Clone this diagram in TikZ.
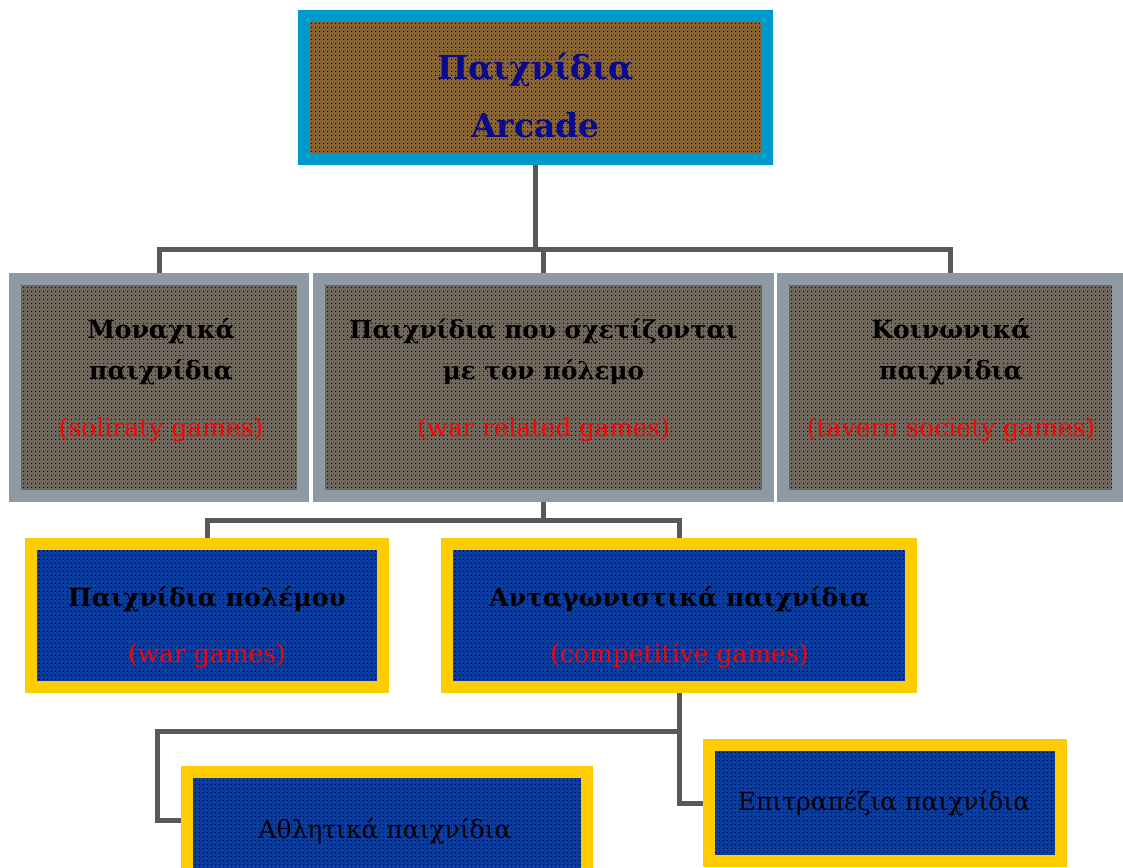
\documentclass[tikz,border=0pt]{standalone}
\usepackage{fontspec}
\setmainfont{DejaVu Serif}
\usetikzlibrary{patterns.meta,backgrounds}

\definecolor{linegray}{RGB}{88,89,91}
\definecolor{topblue}{RGB}{0,153,204}
\definecolor{slate}{RGB}{142,153,164}
\definecolor{gold}{RGB}{255,204,0}
\definecolor{bronze}{RGB}{136,100,52}
\definecolor{taupe}{RGB}{112,103,92}
\definecolor{royal}{RGB}{12,60,158}
\definecolor{navytext}{RGB}{10,10,140}
\definecolor{redtext}{RGB}{255,0,0}

% English subtitles in red, regular weight
\newcommand\engnote{\color{redtext}\mdseries}

\tikzset{
  panel/.style={rectangle, inner sep=0pt, line width=12pt,
    pattern={Dots[distance=4pt,radius=0.7pt]}, pattern color=black},
  toppanel/.style={panel, draw=topblue, preaction={fill=bronze}},
  midpanel/.style={panel, draw=slate, preaction={fill=taupe}},
  lowpanel/.style={panel, draw=gold, preaction={fill=royal}},
  link/.style={draw=linegray, line width=5pt},
  % texts are placed by the baseline of their last line
  boxtext/.style={align=center, inner sep=0pt, anchor=base}
}

\begin{document}
\begin{tikzpicture}[x=1pt, y=1pt]
\useasboundingbox (0,0) rectangle (1123,-867);

% panels
\node[toppanel, minimum width=463pt, minimum height=143pt] (top) at (535.5,-87.5) {};
\node[midpanel, minimum width=288pt, minimum height=217pt] (solo) at (159,-387.5) {};
\node[midpanel, minimum width=449pt, minimum height=217pt] (war) at (543.5,-387.5) {};
\node[midpanel, minimum width=335pt, minimum height=217pt] (social) at (950.5,-387.5) {};
\node[lowpanel, minimum width=352pt, minimum height=143pt] (wargames) at (207,-615.5) {};
\node[lowpanel, minimum width=464pt, minimum height=143pt] (compet) at (679,-615.5) {};
\node[lowpanel, minimum width=400pt, minimum height=116pt] (athl) at (387,-830) {};
\node[lowpanel, minimum width=352pt, minimum height=116pt] (board) at (885,-803) {};

% connectors
\begin{scope}[on background layer]
\coordinate (bus1) at (535.5,-249);
\draw[link] (top.south) -- (bus1);
\draw[link] (solo.north) |- (bus1);
\draw[link] (war.north) |- (bus1);
\draw[link] (social.north) |- (bus1);
\coordinate (bus2) at (543.5,-520.5);
\draw[link] (war.south) -- (bus2);
\draw[link] (wargames.north) |- (bus2);
\draw[link] (compet.north) |- (bus2);
\draw[link] (compet.south) -- ++(0,-38) coordinate (bus3)
  -| ([xshift=-24pt,yshift=10pt]athl.west) -- ([yshift=10pt]athl.west);
\draw[link] (bus3) |- (board.west);
\end{scope}

% texts
\node[boxtext, text=navytext, font=\bfseries\fontsize{33}{58}\selectfont] (ttop) at (535.5,-137)
  {Παιχνίδια\\Arcade};
\node[boxtext, font=\bfseries\fontsize{25}{41}\selectfont] (tsolo) at (161,-436)
  {Μοναχικά\\παιχνίδια\\[16pt]{\engnote (soliraty games)}};
\node[boxtext, font=\bfseries\fontsize{24.6}{41}\selectfont] (twar) at (543.5,-436)
  {Παιχνίδια που σχετίζονται\\με τον πόλεμο\\[16pt]{\engnote (war related games)}};
\node[boxtext, font=\bfseries\fontsize{25}{41}\selectfont] (tsocial) at (951,-436)
  {Κοινωνικά\\παιχνίδια\\[16pt]{\engnote (tavern society games)}};
\node[boxtext, font=\bfseries\fontsize{25}{56}\selectfont] (twargames) at (207,-662)
  {Παιχνίδια πολέμου\\{\engnote (war games)}};
\node[boxtext, font=\bfseries\fontsize{25}{56}\selectfont] (tcompet) at (679.5,-662)
  {Ανταγωνιστικά παιχνίδια\\{\engnote (competitive games)}};
\node[boxtext, font=\fontsize{25}{30}\selectfont] (tathl) at (385,-838) {Αθλητικά παιχνίδια};
\node[boxtext, font=\fontsize{25}{30}\selectfont] (tboard) at (884,-810) {Επιτραπέζια παιχνίδια};
\end{tikzpicture}
\end{document}
